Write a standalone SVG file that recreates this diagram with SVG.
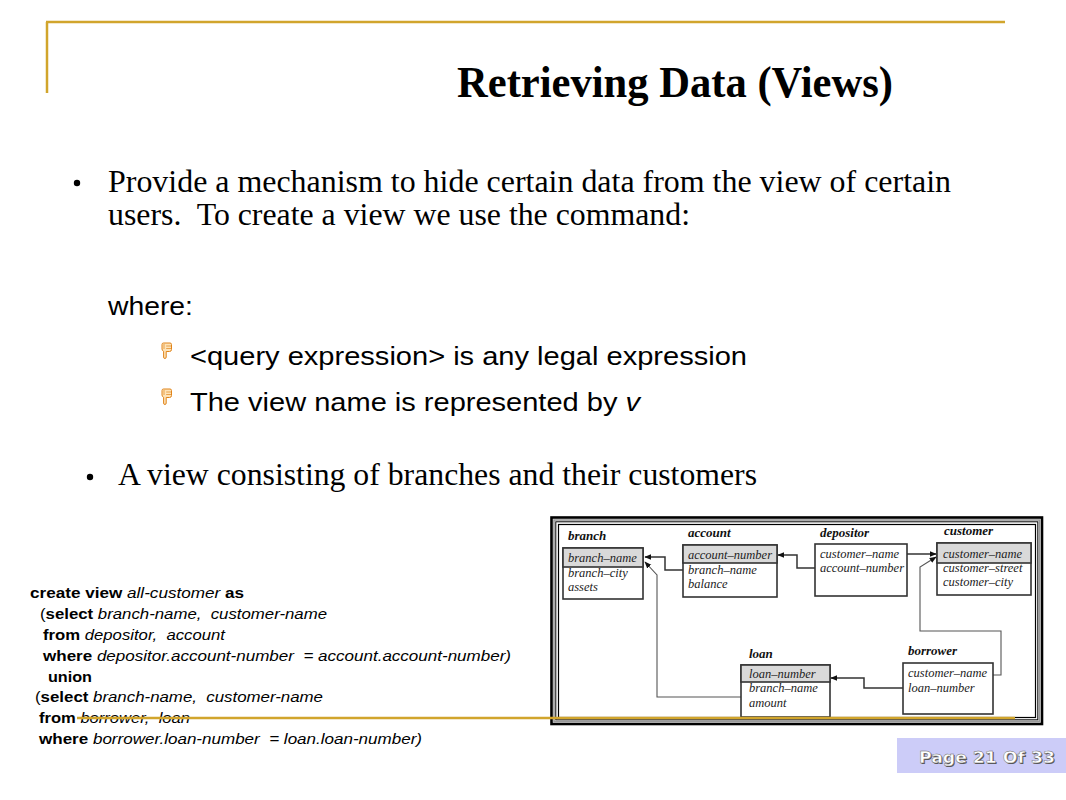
<svg xmlns="http://www.w3.org/2000/svg" width="1066" height="800" viewBox="0 0 1066 800">
<style>
.serif{font-family:"Liberation Serif","Times New Roman",serif;fill:#000}
.sans{font-family:"Liberation Sans",Arial,sans-serif;fill:#000}
.code{font-family:"Liberation Sans",Arial,sans-serif;font-size:15px;fill:#000}
.b{font-weight:bold}
.i{font-style:italic}
.attr{font-family:"Liberation Serif","Times New Roman",serif;font-style:italic;font-size:12.5px;fill:#222}
.lbl{font-family:"Liberation Serif","Times New Roman",serif;font-style:italic;font-weight:bold;font-size:13px;fill:#111}
.box{fill:#fff;stroke:#333;stroke-width:1.6}
.hdr{fill:#d9d9d9;stroke:#333;stroke-width:1.6}
.conn{fill:none;stroke:#333;stroke-width:1.5}
.conn2{fill:none;stroke:#555;stroke-width:1.1}
.gold{stroke:#d1a52c;stroke-width:2.5;fill:none}
</style>
<defs>
<marker id="ah" viewBox="0 0 10 10" refX="9" refY="5" markerWidth="7" markerHeight="7" markerUnits="userSpaceOnUse" orient="auto">
<path d="M0,1 L10,5 L0,9 Z" fill="#111"/>
</marker>
<g id="hand">
<path d="M1,1.5 Q1,0 2.5,0 L9,0 Q10.5,0 10.5,1.5 L10.5,6.5 Q10.5,8.5 8.5,8.5 L5.2,8.5 L5.2,14 Q5.2,15.5 3.9,15.5 Q2.6,15.5 2.6,14 L2.6,8.3 Q1,7.6 1,6 Z" fill="#fde3b8" stroke="#e0841a" stroke-width="1"/>
<path d="M5.2,3 L10,3 M5.2,5.5 L10,5.5 M3,1 L3,6" stroke="#e0841a" stroke-width="0.7" fill="none"/>
</g>
</defs>
<rect x="0" y="0" width="1066" height="800" fill="#fff"/>

<g id="decoration">
<line class="gold" x1="46" y1="22" x2="1005" y2="22"/>
<line class="gold" x1="47" y1="22" x2="47" y2="93"/>
</g>

<g id="title">
<text class="serif b" x="457" y="97" font-size="44" textLength="436" lengthAdjust="spacingAndGlyphs">Retrieving Data (Views)</text>
</g>

<g id="bullets">
<circle cx="77" cy="183" r="3.2" fill="#000"/>
<text class="serif" x="108" y="192" font-size="31" textLength="843" lengthAdjust="spacingAndGlyphs">Provide a mechanism to hide certain data from the view of certain</text>
<text class="serif" x="108" y="225" font-size="31" textLength="582" lengthAdjust="spacingAndGlyphs" xml:space="preserve">users.  To create a view we use the command:</text>
<text class="sans" x="108" y="315" font-size="25" textLength="85" lengthAdjust="spacingAndGlyphs">where:</text>
<use href="#hand" x="161" y="343"/>
<text class="sans" x="190" y="365" font-size="25" textLength="557" lengthAdjust="spacingAndGlyphs">&lt;query expression&gt; is any legal expression</text>
<use href="#hand" x="161" y="389"/>
<text class="sans" x="190" y="411" font-size="25" textLength="450" lengthAdjust="spacingAndGlyphs">The view name is represented by <tspan class="i">v</tspan></text>
<circle cx="90" cy="477" r="3.2" fill="#000"/>
<text class="serif" x="118" y="485" font-size="31" textLength="639" lengthAdjust="spacingAndGlyphs">A view consisting of branches and their customers</text>
</g>

<g id="sql">
<text class="code" x="30" y="598" textLength="214" lengthAdjust="spacingAndGlyphs"><tspan class="b">create view </tspan><tspan class="i">all-customer </tspan><tspan class="b">as</tspan></text>
<text class="code" x="40" y="619" textLength="287" lengthAdjust="spacingAndGlyphs" xml:space="preserve">(<tspan class="b">select </tspan><tspan class="i">branch-name,  customer-name</tspan></text>
<text class="code" x="43" y="640" textLength="182" lengthAdjust="spacingAndGlyphs" xml:space="preserve"><tspan class="b">from </tspan><tspan class="i">depositor,  account</tspan></text>
<text class="code" x="43" y="661" textLength="468" lengthAdjust="spacingAndGlyphs" xml:space="preserve"><tspan class="b">where </tspan><tspan class="i">depositor.account-number  = account.account-number)</tspan></text>
<text class="code b" x="48" y="682" textLength="44" lengthAdjust="spacingAndGlyphs">union</text>
<text class="code" x="35" y="702" textLength="288" lengthAdjust="spacingAndGlyphs" xml:space="preserve">(<tspan class="b">select </tspan><tspan class="i">branch-name,  customer-name</tspan></text>
<text class="code" x="39" y="723" textLength="151" lengthAdjust="spacingAndGlyphs" xml:space="preserve"><tspan class="b">from </tspan><tspan class="i">borrower,  loan</tspan></text>
<text class="code" x="39" y="744" textLength="383" lengthAdjust="spacingAndGlyphs" xml:space="preserve"><tspan class="b">where </tspan><tspan class="i">borrower.loan-number  = loan.loan-number)</tspan></text>
</g>

<g id="schema-frame">
<rect x="551.5" y="517.5" width="490.5" height="206.5" fill="#fff" stroke="#000" stroke-width="2.6"/>
<rect x="554" y="520" width="485.5" height="201.5" fill="none" stroke="#999" stroke-width="1.6"/>
<rect x="555.8" y="521.8" width="482" height="198" fill="none" stroke="#000" stroke-width="1"/>
<rect x="558.5" y="524.5" width="477" height="193" fill="none" stroke="#000" stroke-width="1.2"/>
</g>

<g id="connectors">
<polyline class="conn" points="683,570 665,570 665,557 645,557" marker-end="url(#ah)"/>
<polyline class="conn2" points="741,697 657,697 657,575 645,562" marker-end="url(#ah)"/>
<polyline class="conn" points="815,568 797,568 797,555 778,555" marker-end="url(#ah)"/>
<polyline class="conn" points="907,554 936,554" marker-end="url(#ah)"/>
<polyline class="conn2" points="993,675 1001,675 1001,631 920,631 920,567 936,557" marker-end="url(#ah)"/>
<polyline class="conn" points="903,688 864,688 864,678 831,678" marker-end="url(#ah)"/>
</g>

<g id="branch">
<text class="lbl" x="568" y="540">branch</text>
<rect class="box" x="563" y="548" width="80" height="51"/>
<rect class="hdr" x="563" y="548" width="80" height="19"/>
<text class="attr" x="568" y="562">branch–name</text>
<text class="attr" x="568" y="577">branch–city</text>
<text class="attr" x="568" y="591">assets</text>
</g>

<g id="account">
<text class="lbl" x="688" y="537">account</text>
<rect class="box" x="683" y="545" width="94" height="52"/>
<rect class="hdr" x="683" y="545" width="94" height="18"/>
<text class="attr" x="688" y="559">account–number</text>
<text class="attr" x="688" y="574">branch–name</text>
<text class="attr" x="688" y="588">balance</text>
</g>

<g id="depositor">
<text class="lbl" x="820" y="537">depositor</text>
<rect class="box" x="815" y="544" width="92" height="52"/>
<text class="attr" x="820" y="558">customer–name</text>
<text class="attr" x="820" y="572">account–number</text>
</g>

<g id="customer">
<text class="lbl" x="944" y="535">customer</text>
<rect class="box" x="937" y="543" width="94" height="52"/>
<rect class="hdr" x="937" y="543" width="94" height="20"/>
<text class="attr" x="943" y="558">customer–name</text>
<text class="attr" x="943" y="572">customer–street</text>
<text class="attr" x="943" y="586">customer–city</text>
</g>

<g id="loan">
<text class="lbl" x="749" y="658">loan</text>
<rect class="box" x="741" y="665" width="89" height="52"/>
<rect class="hdr" x="741" y="665" width="89" height="17"/>
<text class="attr" x="749" y="678">loan–number</text>
<text class="attr" x="749" y="692">branch–name</text>
<text class="attr" x="749" y="707">amount</text>
</g>

<g id="borrower">
<text class="lbl" x="908" y="655">borrower</text>
<rect class="box" x="903" y="663" width="90" height="51"/>
<text class="attr" x="908" y="677">customer–name</text>
<text class="attr" x="908" y="692">loan–number</text>
</g>

<g id="underline">
<line class="gold" x1="77" y1="718" x2="1015" y2="718" stroke-width="2"/>
</g>

<g id="page-label">
<rect x="897" y="738" width="169" height="35" fill="#ccccf8"/>
<text x="920" y="764" font-family="'DejaVu Sans',Verdana,sans-serif" font-weight="bold" font-size="15" fill="#555" textLength="136" lengthAdjust="spacingAndGlyphs">Page 21 Of 33</text>
<text x="919" y="763" font-family="'DejaVu Sans',Verdana,sans-serif" font-weight="bold" font-size="15" fill="#fff" stroke="#666" stroke-width="0.4" textLength="136" lengthAdjust="spacingAndGlyphs">Page 21 Of 33</text>
</g>
</svg>
